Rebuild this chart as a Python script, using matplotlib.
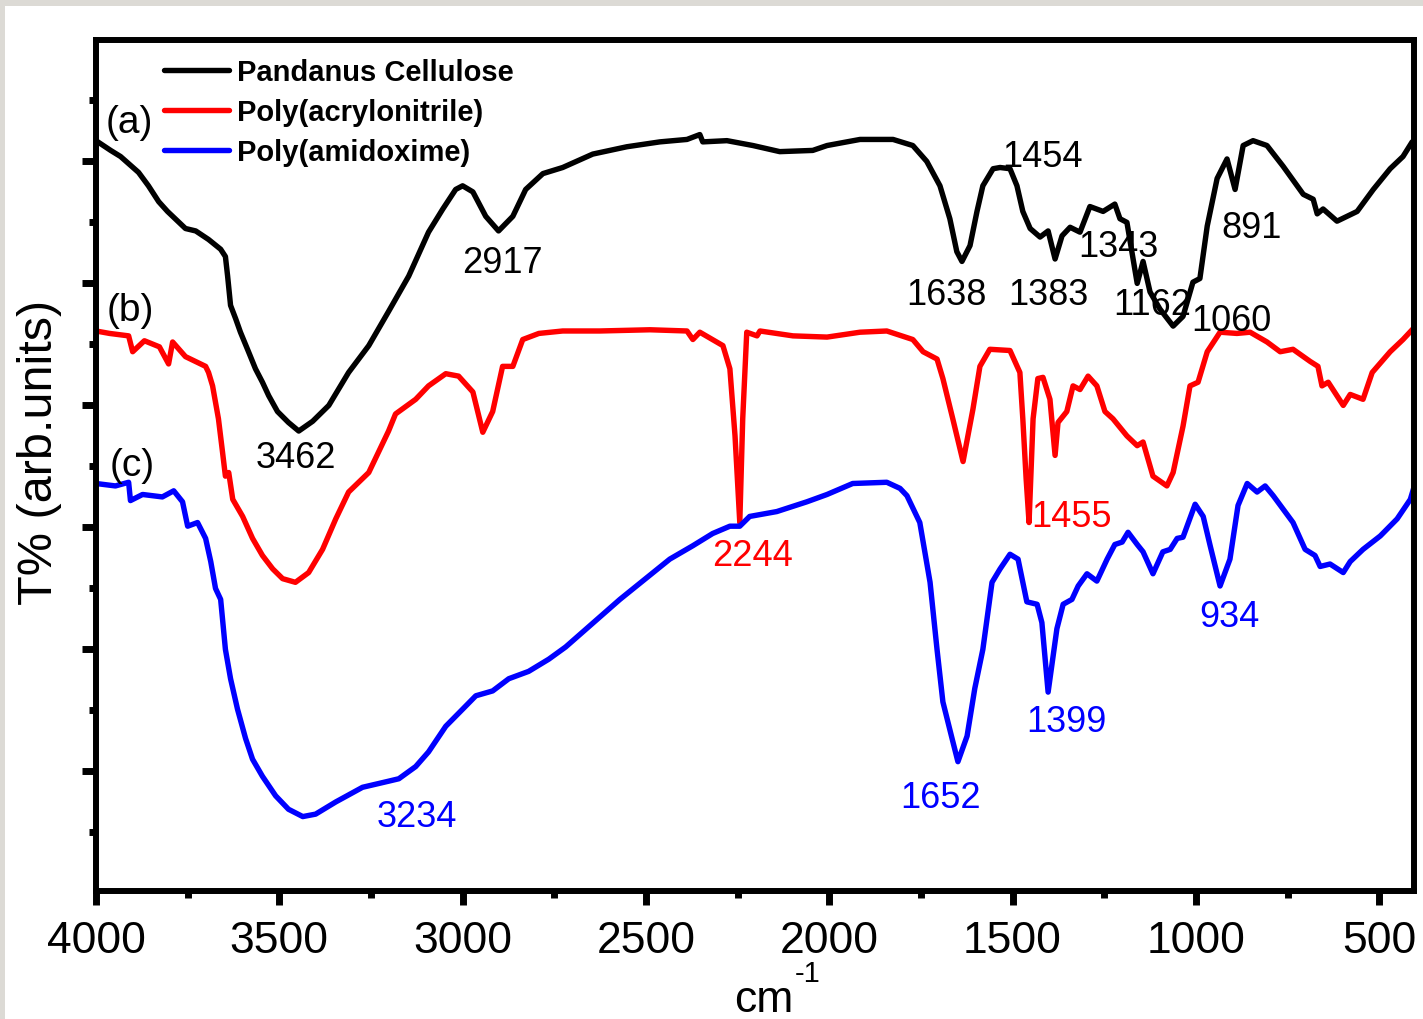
import numpy as np
import matplotlib.pyplot as plt
from matplotlib.patches import Rectangle
from matplotlib.ticker import MultipleLocator

plt.rcParams['font.family'] = ['Liberation Sans', 'DejaVu Sans']

# (a) Pandanus cellulose
wn_a = [4000, 3960, 3933, 3884, 3857, 3829, 3805, 3756, 3728, 3693, 3660, 3647, 3641, 3633,
        3619, 3606, 3584, 3565, 3546, 3529, 3505, 3475, 3447, 3409, 3365, 3311, 3256, 3202,
        3147, 3093, 3054, 3019, 3000, 2972, 2937, 2902, 2863, 2828, 2781, 2727, 2645, 2552,
        2462, 2388, 2353, 2345, 2279, 2208, 2135, 2045, 2006, 1916, 1826, 1772, 1734, 1698,
        1671, 1652, 1638, 1616, 1597, 1581, 1553, 1534, 1507, 1488, 1472, 1452, 1425, 1403,
        1384, 1365, 1343, 1316, 1289, 1253, 1221, 1207, 1188, 1160, 1144, 1125, 1098, 1062,
        1035, 1008, 989, 969, 942, 915, 893, 871, 844, 806, 762, 707, 680, 669, 653, 615,
        560, 516, 470, 435, 410]
t_a = [6.15, 6.07, 6.02, 5.89, 5.78, 5.65, 5.57, 5.43, 5.41, 5.34, 5.26, 5.20, 5.04, 4.80,
       4.69, 4.58, 4.42, 4.28, 4.17, 4.06, 3.93, 3.84, 3.77, 3.85, 3.98, 4.25, 4.47, 4.75,
       5.04, 5.40, 5.59, 5.75, 5.78, 5.73, 5.53, 5.41, 5.53, 5.75, 5.88, 5.93, 6.04, 6.10,
       6.14, 6.16, 6.20, 6.14, 6.15, 6.11, 6.06, 6.07, 6.11, 6.16, 6.16, 6.11, 5.98, 5.78,
       5.51, 5.24, 5.16, 5.29, 5.57, 5.78, 5.92, 5.93, 5.92, 5.78, 5.57, 5.43, 5.36, 5.41,
       5.18, 5.37, 5.44, 5.40, 5.61, 5.57, 5.63, 5.51, 5.48, 4.98, 5.16, 4.91, 4.77, 4.63,
       4.71, 4.99, 5.02, 5.45, 5.84, 6.00, 5.75, 6.11, 6.15, 6.11, 5.94, 5.71, 5.67, 5.55,
       5.59, 5.49, 5.57, 5.75, 5.92, 6.02, 6.14]

# (b) poly(acrylonitrile)
wn_b = [4000, 3963, 3911, 3900, 3868, 3827, 3802, 3791, 3756, 3701, 3693, 3682, 3666, 3655,
        3647, 3638, 3627, 3600, 3573, 3546, 3518, 3491, 3456, 3420, 3382, 3346, 3311, 3256,
        3202, 3183, 3128, 3093, 3046, 3011, 2972, 2945, 2918, 2891, 2863, 2836, 2792, 2727,
        2626, 2489, 2388, 2372, 2353, 2290, 2271, 2257, 2244, 2236, 2225, 2197, 2189, 2099,
        2006, 1916, 1843, 1772, 1744, 1706, 1690, 1663, 1635, 1608, 1589, 1562, 1507, 1480,
        1472, 1463, 1455, 1444, 1431, 1417, 1398, 1384, 1376, 1352, 1335, 1316, 1294, 1270,
        1248, 1226, 1188, 1160, 1144, 1117, 1079, 1062, 1035, 1016, 994, 969, 934, 888, 852,
        806, 770, 735, 688, 667, 656, 639, 598, 579, 544, 519, 470, 435, 407]
t_b = [4.59, 4.57, 4.55, 4.42, 4.51, 4.46, 4.32, 4.50, 4.38, 4.30, 4.25, 4.14, 3.87, 3.60,
       3.40, 3.43, 3.21, 3.07, 2.89, 2.75, 2.64, 2.56, 2.53, 2.61, 2.80, 3.05, 3.27, 3.43,
       3.77, 3.91, 4.03, 4.14, 4.24, 4.22, 4.09, 3.76, 3.93, 4.30, 4.30, 4.52, 4.57, 4.59,
       4.59, 4.60, 4.59, 4.52, 4.58, 4.47, 4.28, 3.73, 3.02, 3.87, 4.58, 4.55, 4.59, 4.55,
       4.54, 4.58, 4.59, 4.52, 4.42, 4.36, 4.20, 3.87, 3.52, 3.95, 4.30, 4.44, 4.43, 4.25,
       3.87, 3.38, 3.02, 3.87, 4.20, 4.21, 4.03, 3.57, 3.84, 3.93, 4.14, 4.11, 4.22, 4.14,
       3.93, 3.87, 3.73, 3.65, 3.68, 3.40, 3.32, 3.43, 3.81, 4.14, 4.17, 4.42, 4.58, 4.57,
       4.58, 4.50, 4.42, 4.44, 4.34, 4.30, 4.14, 4.17, 3.98, 4.07, 4.03, 4.25, 4.42, 4.52, 4.61]

# (c) poly(amidoxime)
wn_c = [4000, 3947, 3911, 3906, 3873, 3819, 3788, 3764, 3750, 3723, 3701, 3687, 3674, 3660,
        3647, 3633, 3614, 3592, 3573, 3546, 3510, 3475, 3436, 3401, 3346, 3273, 3202, 3174,
        3128, 3093, 3046, 3000, 2964, 2918, 2874, 2820, 2765, 2719, 2571, 2435, 2372, 2318,
        2271, 2244, 2217, 2143, 2061, 2006, 1936, 1843, 1807, 1788, 1753, 1725, 1706, 1690,
        1665, 1649, 1624, 1603, 1581, 1556, 1534, 1507, 1485, 1461, 1433, 1420, 1403, 1379,
        1362, 1338, 1321, 1297, 1270, 1242, 1221, 1201, 1185, 1160, 1144, 1117, 1090, 1070,
        1051, 1035, 1002, 980, 961, 934, 907, 885, 860, 833, 811, 789, 762, 735, 702, 675,
        661, 634, 598, 579, 544, 497, 451, 415, 402]
t_c = [3.34, 3.32, 3.35, 3.20, 3.25, 3.23, 3.28, 3.19, 2.99, 3.02, 2.89, 2.70, 2.48, 2.39,
       1.98, 1.74, 1.49, 1.25, 1.08, 0.94, 0.78, 0.67, 0.61, 0.63, 0.73, 0.85, 0.90, 0.92,
       1.02, 1.14, 1.35, 1.49, 1.60, 1.64, 1.74, 1.80, 1.90, 2.00, 2.39, 2.72, 2.83, 2.93,
       2.99, 2.99, 3.07, 3.11, 3.19, 3.25, 3.34, 3.35, 3.30, 3.24, 3.02, 2.53, 1.98, 1.55,
       1.25, 1.06, 1.27, 1.66, 1.98, 2.53, 2.64, 2.76, 2.72, 2.37, 2.35, 2.20, 1.63, 2.15,
       2.35, 2.39, 2.50, 2.60, 2.54, 2.72, 2.84, 2.86, 2.94, 2.84, 2.78, 2.60, 2.78, 2.80,
       2.89, 2.90, 3.17, 3.07, 2.83, 2.50, 2.72, 3.16, 3.34, 3.27, 3.32, 3.24, 3.13, 3.02,
       2.80, 2.75, 2.66, 2.68, 2.61, 2.70, 2.80, 2.91, 3.05, 3.21, 3.34]

series_names = ['Pandanus Cellulose', 'Poly(acrylonitrile)', 'Poly(amidoxime)']
series_colors = ['black', 'red', 'blue']

# peak annotations: (text, wavenumber, T, colour)
peak_labels = [
    ('3462', 3455, 3.55, 'black'), ('2917', 2891, 5.15, 'black'),
    ('1638', 1679, 4.89, 'black'), ('1454', 1417, 6.02, 'black'),
    ('1383', 1403, 4.89, 'black'), ('1343', 1212, 5.28, 'black'),
    ('1162', 1119, 4.81, 'black'), ('1060', 904, 4.68, 'black'),
    ('891', 847, 5.44, 'black'),
    ('2244', 2208, 2.75, 'red'), ('1455', 1338, 3.07, 'red'),
    ('3234', 3125, 0.61, 'blue'), ('1652', 1695, 0.77, 'blue'),
    ('1399', 1354, 1.39, 'blue'), ('934', 909, 2.25, 'blue'),
]
curve_tags = [('(a)', 3973, 6.30), ('(b)', 3970, 4.76), ('(c)', 3964, 3.49)]

fig = plt.figure(figsize=(14.23, 10.2), dpi=100)
fig.patch.set_facecolor('#dcdad5')
# white canvas, leaving a thin grey margin on the top and left edges
fig.patches.append(Rectangle((5 / 1423, 0), 1, 1 - 7 / 1020, transform=fig.transFigure,
                             facecolor='white', edgecolor='none', zorder=-5))
ax = fig.add_axes([96 / 1423, 128 / 1020, 1318 / 1423, 851 / 1020])

for wn, t, name, c in zip([wn_a, wn_b, wn_c], [t_a, t_b, t_c], series_names, series_colors):
    ax.plot(wn, t, color=c, lw=3.9, label=name, solid_joinstyle='round',
            solid_capstyle='round')

for txt, x, y, c in peak_labels:
    ax.text(x, y, txt, color=c, fontsize=26, ha='center', va='center')
for txt, x, y in curve_tags:
    ax.text(x, y, txt, color='black', fontsize=28, ha='left', va='center')

ax.set_xlim(4000, 405)
ax.set_ylim(0, 6.975)
ax.xaxis.set_major_locator(MultipleLocator(500))
ax.xaxis.set_minor_locator(MultipleLocator(250))
ax.set_yticks(np.arange(0.98, 6.9, 1.0))
ax.set_yticks(np.arange(0.48, 6.9, 1.0), minor=True)
ax.set_yticklabels([])
ax.tick_params(axis='x', which='major', direction='out', length=10, width=5,
               labelsize=32, pad=11, top=False)
ax.tick_params(axis='x', which='minor', direction='out', length=5, width=5, top=False)
ax.tick_params(axis='y', which='major', direction='out', length=10, width=5, right=False)
ax.tick_params(axis='y', which='minor', direction='out', length=5, width=5, right=False)
for sp in ax.spines.values():
    sp.set_linewidth(4.3)

leg = ax.legend(loc='upper left', bbox_to_anchor=(0.043, 0.992), frameon=False,
                prop={'weight': 'bold', 'size': 21}, handlelength=2.2,
                handletextpad=0.3, labelspacing=0.4, borderaxespad=0)
for h in leg.get_lines():
    h.set_linewidth(3.9)

fig.text(40 / 1423, 1 - 452 / 1020, 'T% (arb.units)', rotation=90, fontsize=35,
         ha='center', va='center')
fig.text(793 / 1423, 1 - 1012 / 1020, 'cm', fontsize=32, ha='right', va='baseline')
fig.text(795 / 1423, 1 - 982 / 1020, '-1', fontsize=21, ha='left', va='baseline')

fig.savefig('out.png', dpi=100, facecolor=fig.get_facecolor())
